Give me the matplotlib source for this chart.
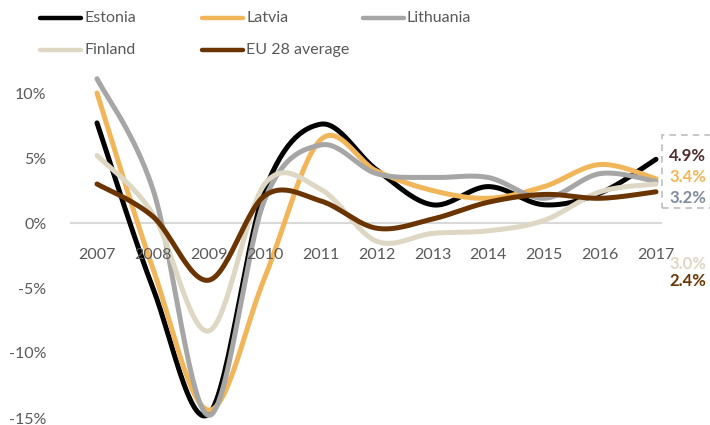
import numpy as np
import matplotlib
matplotlib.use("Agg")
import matplotlib.pyplot as plt
from matplotlib.lines import Line2D
from matplotlib.patches import Rectangle

years = [2007, 2008, 2009, 2010, 2011, 2012, 2013, 2014, 2015, 2016, 2017]
estonia = [7.7, -5.0, -14.7, 2.5, 7.6, 4.1, 1.4, 2.8, 1.4, 2.3, 4.9]
latvia = [10.0, -3.5, -14.4, -4.2, 6.4, 4.0, 2.5, 1.9, 2.8, 4.5, 3.4]
lithuania = [11.1, 2.6, -14.8, 1.8, 6.0, 3.8, 3.5, 3.5, 1.9, 3.8, 3.2]
finland = [5.2, 0.7, -8.3, 3.0, 2.6, -1.4, -0.8, -0.6, 0.2, 2.4, 3.0]
eu28 = [3.0, 0.5, -4.4, 2.1, 1.7, -0.4, 0.3, 1.6, 2.2, 1.9, 2.4]

names = ["Estonia", "Latvia", "Lithuania", "Finland", "EU 28 average"]
series = [estonia, latvia, lithuania, finland, eu28]
colors = ["#000000", "#F2B65A", "#A6A6A6", "#DDD7C3", "#6B3503"]
end_label_colors = ["#4E2E2C", "#F2B65A", "#808A9E", "#DDD7C3", "#6B3503"]
yticks = [-15, -10, -5, 0, 5, 10]

plt.rcParams['font.family'] = ['Lato', 'DejaVu Sans']


def smooth(x, y, n=30):
    x = np.asarray(x, float)
    y = np.asarray(y, float)
    P = np.column_stack([x, y])
    ext = np.vstack([P[0], P, P[-1]])
    out = []
    t = np.linspace(0, 1, n)[:, None]
    for i in range(len(P) - 1):
        p0, p1, p2, p3 = ext[i], ext[i + 1], ext[i + 2], ext[i + 3]
        c1 = p1 + (p2 - p0) / 6
        c2 = p2 - (p3 - p1) / 6
        seg = ((1 - t) ** 3) * p1 + 3 * ((1 - t) ** 2) * t * c1 + 3 * (1 - t) * t ** 2 * c2 + t ** 3 * p2
        out.append(seg if i == 0 else seg[1:])
    out = np.vstack(out)
    return out[:, 0], out[:, 1]


fig = plt.figure(figsize=(7.1, 4.25), dpi=100)
W, H = 710, 425
ax_l, ax_r, ax_t, ax_b = 70, 662, 60, 420
ax = fig.add_axes([ax_l / W, 1 - ax_b / H, (ax_r - ax_l) / W, (ax_b - ax_t) / H])

px_per_year = (656 - 97) / 10
x0 = 2007 - (97 - ax_l) / px_per_year
x1 = 2007 + (ax_r - 97) / px_per_year
ax.set_xlim(x0, x1)
zero_px = 223
ppu = 13.0
ax.set_ylim((zero_px - ax_b) / ppu, (zero_px - ax_t) / ppu)

for s in ax.spines.values():
    s.set_visible(False)
ax.axhline(0, color="#D9D9D9", lw=1.5, zorder=1)

for name, vals, c in zip(names, series, colors):
    xs, ys = smooth(years, vals)
    ax.plot(xs, ys, color=c, lw=3.6, solid_capstyle='round', zorder=3)

ax.set_xticks([])
ax.set_yticks(yticks)
ax.set_yticklabels([f"{v}%" for v in yticks], fontsize=11.5, color="#595959")
ax.tick_params(axis='y', length=0, pad=17)
for yr in years:
    ax.annotate(str(yr), (yr, 0), xytext=(0, -23), textcoords='offset points',
                ha='center', va='center', fontsize=11.5, color="#595959")

# end labels
label_px = [156, 177, 198, 264, 281]
for vals, c, py in zip(series, end_label_colors, label_px):
    fig.text(669 / W, 1 - py / H, f"{vals[-1]:.1f}%", color=c, fontsize=12,
             fontweight='bold', ha='left', va='center')
fig.patches.append(Rectangle((662 / W, 1 - 208 / H), 60 / W, 73 / H, transform=fig.transFigure,
                             fill=False, edgecolor="#BFBFBF", lw=1.2, ls=(0, (4, 3))))

# legend
leg_pos = [(40, 18), (202, 18), (363, 18), (40, 50), (202, 50)]
for name, c, (lx, ly) in zip(names, colors, leg_pos):
    fig.add_artist(Line2D([lx / W, (lx + 41) / W], [1 - ly / H, 1 - ly / H], transform=fig.transFigure,
                          color=c, lw=3.2, solid_capstyle='round'))
    fig.text((lx + 44) / W, 1 - ly / H, name, fontsize=11.5, color="#595959", ha='left', va='center')

fig.savefig("out.png", dpi=100)
